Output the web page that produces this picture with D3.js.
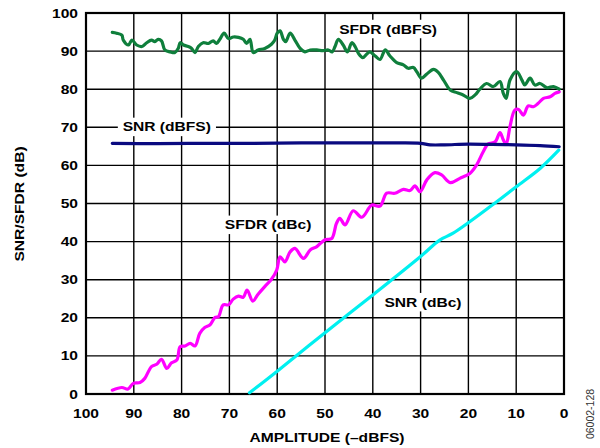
<!DOCTYPE html>
<html><head><meta charset="utf-8">
<script src="https://cdn.jsdelivr.net/npm/d3@7"></script>
<style>body{margin:0;background:#fff}svg{display:block}</style>
</head><body><svg id="c" width="600" height="448"></svg>
<script>
const xTicks = [100,90,80,70,60,50,40,30,20,10,0];
const yTicks = [0,10,20,30,40,50,60,70,80,90,100];

const sfdrDbfsX = [94.5,93.6,92.5,92.2,91.1,90.4,89.4,88.3,87.3,86.3,85.6,84.9,84.2,83.5,82.4,81.4,80.7,80.3,79.6,78.6,77.9,77.2,76.5,75.5,74.4,73.4,72.7,72.0,71.1,70.2,69.2,68.1,67.1,66.4,65.7,65.0,64.0,62.6,61.2,60.5,60.0,59.4,58.7,58.2,57.3,56.3,55.2,54.2,53.1,51.7,50.4,49.3,48.5,47.9,47.2,46.2,45.3,44.4,43.7,43.0,42.1,41.3,40.6,39.5,38.5,37.4,36.4,35.0,33.6,32.6,31.5,30.8,29.8,28.7,27.3,26.3,25.2,23.8,22.4,21.1,19.7,18.6,17.6,16.2,14.8,13.4,12.7,12.1,11.3,9.9,8.8,8.2,7.1,6.1,5.0,3.6,2.2,1.0];
const sfdrDbfsY = [94.9,94.7,94.2,92.9,91.6,92.9,91.6,91.2,92.2,92.9,92.5,93.1,92.7,90.3,89.8,89.6,90.7,92.2,91.6,91.2,90.7,89.6,91.2,92.2,92.0,92.7,92.0,93.1,94.7,93.3,93.7,93.6,93.1,92.0,93.1,89.6,90.3,90.7,91.8,92.9,94.7,95.3,93.1,92.5,94.7,92.9,90.7,89.8,90.3,90.3,90.1,90.3,89.8,91.2,93.1,91.6,89.8,92.2,91.2,89.4,88.3,89.2,89.8,88.7,87.8,90.3,88.7,87.0,86.4,85.5,85.7,84.6,82.9,84.0,85.2,84.4,82.4,79.8,79.1,78.5,77.6,78.5,80.0,81.5,80.7,82.0,78.9,77.6,82.4,84.6,82.4,81.1,82.9,81.1,81.5,80.4,80.7,80.0];

const snrDbfsX = [94.5,85,75,65,55,45,35,30,28,25,20,15,10,5,1];
const snrDbfsY = [65.8,65.7,65.8,65.8,65.9,65.9,65.9,65.8,65.4,65.4,65.6,65.5,65.4,65.2,64.9];

const snrDbcX = [65.8,60,50,40,30,26,23.2,15,10,5,1.1];
const snrDbcY = [0.3,6.0,16.1,26.0,36.1,40.4,42.2,49.6,54.4,59.2,64.0];

const sfdrDbcX = [94.5,92.5,91.2,90.1,88.7,87.7,86.3,85.2,84.2,83.1,82.1,81.0,80.3,79.3,78.2,77.2,76.2,75.1,74.1,73.0,72.3,71.3,70.2,69.2,68.1,67.1,66.3,65.1,64.0,62.6,61.2,60.1,59.4,58.4,57.3,56.3,54.5,53.1,51.7,50.0,48.6,47.6,46.9,45.8,44.1,42.3,40.2,38.5,37.1,35.4,33.6,32.2,31.2,30.1,28.7,27.0,25.6,23.8,21.8,19.7,18.3,16.9,15.9,14.4,13.4,12.7,12.1,11.3,10.3,9.5,8.5,7.5,6.4,5.4,4.3,2.9,1.9,1.0];
const sfdrDbcY = [1.0,1.7,1.3,2.8,3.0,4.1,7.2,7.8,9.1,6.7,8.2,8.9,12.4,12.6,13.3,12.6,15.9,17.5,18.1,20.1,20.3,23.4,23.4,24.9,25.7,25.4,27.3,24.4,26.2,28.2,30.1,32.5,36.0,34.7,37.3,38.2,35.6,37.8,38.7,40.5,40.8,44.8,46.1,44.4,48.1,46.4,49.6,49.3,52.7,52.7,53.7,53.4,54.6,53.1,56.2,58.1,57.5,55.5,56.6,57.9,60.1,63.6,65.6,66.2,68.6,66.7,65.6,70.2,74.5,74.7,73.2,75.6,75.4,76.3,77.6,78.0,78.9,79.3];

const labels = [
  {text:"SFDR (dBFS)", x:36.8, y:95.8},
  {text:"SNR (dBFS)", x:83.1, y:70.1},
  {text:"SFDR (dBc)", x:61.9, y:44.4},
  {text:"SNR (dBc)", x:29.5, y:24.1}
];

const svg = d3.select("#c");
const L=86, R=564, T=13, B=394;
const x = d3.scaleLinear().domain([100,0]).range([L,R]);
const y = d3.scaleLinear().domain([0,100]).range([B,T]);
const font = "'Liberation Sans', Arial, sans-serif";
const SX = 1.2;

function btext(parent, px, py, str, anchor, rot, bg){
  const gg = parent.append("g").attr("transform",`translate(${px},${py}) rotate(${rot||0}) scale(${SX},1)`);
  const t = gg.append("text").attr("x",0).attr("y",0).attr("text-anchor",anchor||"middle")
    .attr("dominant-baseline","central").attr("font-family",font).attr("font-weight","bold")
    .attr("font-size",13).attr("fill","#000").text(str);
  if(bg){
    const bb = t.node().getBBox();
    gg.insert("rect","text").attr("x",bb.x-4).attr("y",bb.y-2).attr("width",bb.width+8).attr("height",bb.height+4).attr("fill","#fff");
  }
  return gg;
}

// grid
const g = svg.append("g");
g.selectAll("line.v").data(xTicks).join("line")
  .attr("x1",d=>x(d)).attr("x2",d=>x(d)).attr("y1",T).attr("y2",B)
  .attr("stroke","#000").attr("stroke-width",1.4);
g.selectAll("line.h").data(yTicks).join("line")
  .attr("y1",d=>y(d)).attr("y2",d=>y(d)).attr("x1",L).attr("x2",R)
  .attr("stroke","#000").attr("stroke-width",1.4);

const lab = svg.append("g");
labels.forEach(l=> btext(lab, x(l.x), y(l.y), l.text, "middle", 0, true));

// border
svg.append("rect").attr("x",L).attr("y",T).attr("width",R-L).attr("height",B-T)
  .attr("fill","none").attr("stroke","#000").attr("stroke-width",2.2);

const line = d3.line().x(d=>x(d[0])).y(d=>y(d[1])).curve(d3.curveCatmullRom.alpha(0.5));
function draw(xs, ys, color, w){
  svg.append("path").datum(xs.map((v,i)=>[v,ys[i]])).attr("d",line)
    .attr("fill","none").attr("stroke",color).attr("stroke-width",w)
    .attr("stroke-linejoin","round").attr("stroke-linecap","round");
}
draw(snrDbcX, snrDbcY, "#00f0f0", 3.2);
draw(sfdrDbcX, sfdrDbcY, "#ff00ff", 3.2);
draw(snrDbfsX, snrDbfsY, "#0a0a80", 3.2);
draw(sfdrDbfsX, sfdrDbfsY, "#0f7f3c", 3.2);

// tick labels
yTicks.forEach(d=> btext(svg, L-8, y(d), d, "end"));
xTicks.forEach(d=> btext(svg, x(d), B+19, d, "middle"));

btext(svg, 327, 437, "AMPLITUDE (–dBFS)", "middle");
btext(svg, 19, 204, "SNR/SFDR (dB)", "middle", -90);
svg.append("text").attr("transform","translate(590,414) rotate(-90)").attr("text-anchor","middle").attr("dominant-baseline","central")
  .attr("font-family",font).attr("font-size",10.5).attr("fill","#333").text("06002-128");
</script></body></html>
